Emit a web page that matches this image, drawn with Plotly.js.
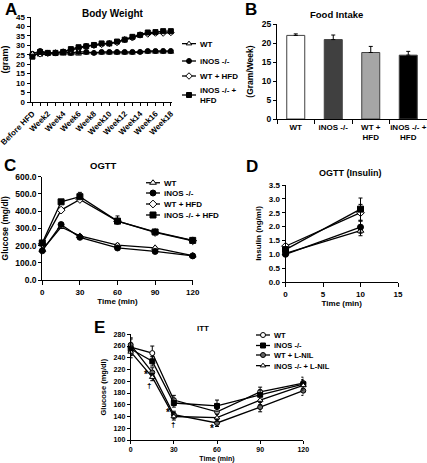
<!DOCTYPE html>
<html><head><meta charset="utf-8">
<script src="https://cdn.plot.ly/plotly-3.0.1.min.js"></script>
<style>html,body{margin:0;padding:0;background:#fff}#chart{width:427px;height:463px}</style>
</head><body><div id="chart"></div>
<script>
// ---------- Panel A: Body Weight ----------
const weeks = ["Before HFD","Week1","Week2","Week3","Week4","Week5","Week6","Week7","Week8","Week9","Week10","Week11","Week12","Week13","Week14","Week15","Week16","Week17","Week18"];
const weekTickText = ["Before HFD","","Week2","","Week4","","Week6","","Week8","","Week10","","Week12","","Week14","","Week16","","Week18"];
const bwWT      = [25.5,25.0,25.5,25.5,25.5,25.5,25.5,26.0,26.0,26.0,26.0,26.0,26.0,26.0,26.5,26.5,26.5,26.5,26.5];
const bwINOS    = [25.5,27.0,26.0,26.0,26.5,26.0,26.5,26.5,26.0,26.5,26.5,26.5,26.5,26.5,26.5,27.0,27.0,27.0,27.0];
const bwWTHFD   = [25.0,25.5,25.8,26.0,26.5,27.5,28.5,29.5,30.0,30.5,31.0,31.5,33.0,34.0,35.5,36.0,36.5,36.5,36.8];
const bwINOSHFD = [24.0,26.5,26.0,26.0,26.5,28.0,29.0,29.5,30.2,31.0,31.0,32.0,33.0,34.5,35.5,36.8,37.0,37.5,37.5];
const bwErr     = [0.6,0.6,0.5,0.5,0.6,0.6,0.6,0.6,0.6,0.7,0.7,0.7,0.7,0.8,0.8,0.8,0.8,0.9,0.9];
const legendA   = ["WT","iNOS -/-","WT + HFD","iNOS -/- +<br>HFD"];

// ---------- Panel B: Food Intake ----------
const fiGroups = ["WT","iNOS -/-","WT +<br>HFD","iNOS -/- +<br>HFD"];
const fiValues = [22.0,20.9,17.5,16.8];
const fiErr    = [0.4,1.2,1.6,1.0];
const fiColors = ["#ffffff","#404040","#a6a6a6","#000000"];

// ---------- Panel C: OGTT ----------
const ogttTime    = [0,15,30,60,90,120];
const ogttWT      = [175,308,256,203,187,142];
const ogttINOS    = [170,322,248,186,166,140];
const ogttWTHFD   = [210,406,468,342,276,228];
const ogttINOSHFD = [215,454,484,342,279,230];
const ogttErrWT      = [8,10,8,8,6,5];
const ogttErrINOS    = [8,10,10,8,6,5];
const ogttErrWTHFD   = [10,12,18,15,8,8];
const ogttErrINOSHFD = [10,10,25,30,8,8];
const legendC = ["WT","iNOS -/-","WT + HFD","iNOS -/- + HFD"];

// ---------- Panel D: OGTT (Insulin) ----------
const insTime    = [0,10];
const insWT      = [1.03,1.85];
const insINOS    = [1.00,1.98];
const insWTHFD   = [1.29,2.50];
const insINOSHFD = [1.17,2.63];
const insErrWT      = [0.08,0.18];
const insErrINOS    = [0.08,0.22];
const insErrWTHFD   = [0.08,0.30];
const insErrINOSHFD = [0.08,0.40];

// ---------- Panel E: ITT ----------
const ittTime     = [0,15,30,60,90,120];
const ittWT       = [258,248,168,148,182,197];
const ittINOS     = [255,234,163,158,177,195];
const ittWTLNIL   = [262,215,143,129,156,184];
const ittINOSLNIL = [250,207,140,138,168,193];
const ittErrWT       = [14,12,8,10,8,10];
const ittErrINOS     = [10,8,7,10,8,8];
const ittErrWTLNIL   = [12,8,6,6,8,8];
const ittErrINOSLNIL = [10,6,6,6,8,8];
const legendE = ["WT","iNOS -/-","WT + L-NIL","iNOS -/- + L-NIL"];
const ittMarks = [
  {x:10.5, y:212, t:"*"},{x:13, y:193, t:"†"},
  {x:26.2, y:146, t:"*"},{x:29.6, y:126, t:"†"},
  {x:56.6, y:119, t:"*"}
];

// ---------- style helpers ----------
const FF = "Liberation Sans, Arial, Helvetica, sans-serif";
const W = 427, H = 463;
const px = x => x / W;
const py = y => 1 - y / H;
function font(size){ return {family:FF, size:size, color:"#000", weight:"bold"}; }
function axis(extra){
  return Object.assign({
    showgrid:false, zeroline:false, showline:true, linecolor:"#000", linewidth:1,
    ticks:"outside", ticklen:3, tickwidth:1, tickcolor:"#000", fixedrange:true,
    tickfont:font(8)
  }, extra);
}
function line(xa, ya, x, y, err, sym, fill, size, name, legend, errSym){
  const e = {type:"data", array:err, color:"#000", thickness:1, width:2, visible:true};
  if(!errSym){ e.symmetric = false; e.arrayminus = err.map(()=>0); }
  return {
    type:"scatter", mode:"lines+markers", x:x, y:y, xaxis:xa, yaxis:ya,
    name:name, legend:legend, showlegend: !!legend, cliponaxis:false,
    line:{color:"#000", width:1.3},
    marker:{symbol:sym, size:size, color:fill, line:{color:"#000", width:1}},
    error_y:e
  };
}

const traces = [
  // A
  line("x","y",weeks,bwWT,bwErr,"triangle-up","#fff",5,legendA[0],"legend",false),
  line("x","y",weeks,bwINOS,bwErr,"circle","#000",5,legendA[1],"legend",false),
  line("x","y",weeks,bwWTHFD,bwErr,"diamond","#fff",5,legendA[2],"legend",false),
  line("x","y",weeks,bwINOSHFD,bwErr,"square","#000",5,legendA[3],"legend",false),
  // B
  {type:"bar", x:fiGroups, y:fiValues, xaxis:"x2", yaxis:"y2", width:0.48, showlegend:false,
   marker:{color:fiColors, line:{color:"#404040", width:1}},
   error_y:{type:"data", array:fiErr, symmetric:false, arrayminus:fiErr.map(()=>0), color:"#000", thickness:1, width:2}},
  // C
  line("x3","y3",ogttTime,ogttWT,ogttErrWT,"triangle-up","#fff",6,legendC[0],"legend2",false),
  line("x3","y3",ogttTime,ogttINOS,ogttErrINOS,"circle","#000",6,legendC[1],"legend2",false),
  line("x3","y3",ogttTime,ogttWTHFD,ogttErrWTHFD,"diamond","#fff",6,legendC[2],"legend2",false),
  line("x3","y3",ogttTime,ogttINOSHFD,ogttErrINOSHFD,"square","#000",6,legendC[3],"legend2",false),
  // D
  line("x4","y4",insTime,insWT,insErrWT,"triangle-up","#fff",6,"WT",null,true),
  line("x4","y4",insTime,insINOS,insErrINOS,"circle","#000",6,"iNOS -/-",null,true),
  line("x4","y4",insTime,insWTHFD,insErrWTHFD,"diamond","#fff",6,"WT + HFD",null,true),
  line("x4","y4",insTime,insINOSHFD,insErrINOSHFD,"square","#000",6,"iNOS -/- + HFD",null,true),
  // E
  line("x5","y5",ittTime,ittWT,ittErrWT,"circle","#fff",5,legendE[0],"legend3",true),
  line("x5","y5",ittTime,ittINOS,ittErrINOS,"square","#000",5,legendE[1],"legend3",true),
  line("x5","y5",ittTime,ittWTLNIL,ittErrWTLNIL,"circle","#666",5,legendE[2],"legend3",true),
  line("x5","y5",ittTime,ittINOSLNIL,ittErrINOSLNIL,"triangle-up","#fff",5,legendE[3],"legend3",true)
];

const ann = [];
function txt(x,y,t,size,opts){ ann.push(Object.assign({xref:"paper",yref:"paper",x:px(x),y:py(y),text:t,showarrow:false,font:font(size),xanchor:"center",yanchor:"middle"},opts||{})); }
// panel letters
txt(3,9,"A",17,{xanchor:"left"});
txt(243,9,"B",17,{xanchor:"left"});
txt(2,165,"C",17,{xanchor:"left"});
txt(244,166,"D",17,{xanchor:"left"});
txt(92,327,"E",17,{xanchor:"left"});
// panel titles
txt(113,13,"Body Weight",10);
txt(336,15,"Food Intake",9.5);
txt(103,165,"OGTT",9.5);
txt(350,173,"OGTT (Insulin)",9);
txt(203,328,"ITT",8);
// significance marks
ittMarks.forEach(m => ann.push({xref:"x5",yref:"y5",x:m.x,y:m.y,text:m.t,showarrow:false,font:font(m.t==="*"?10:8)}));

const layout = {
  width:W, height:H, margin:{l:0,r:0,t:0,b:0}, paper_bgcolor:"#fff", plot_bgcolor:"rgba(0,0,0,0)",
  font:font(8), showlegend:true,
  // A
  xaxis: axis({domain:[px(30.5),px(172)], anchor:"y", type:"category", range:[-0.25,18.15],
               tickmode:"array", tickvals:weeks, ticktext:weekTickText, tickangle:-45, tickfont:font(8)}),
  yaxis: axis({domain:[py(102),py(17)], anchor:"x", range:[0,45], dtick:5, tickfont:font(8),
               title:{text:"(gram)", font:font(9), standoff:6}}),
  // B
  xaxis2: axis({domain:[px(277),px(427)], anchor:"y2", type:"category", range:[-0.5,3.5], tickson:"boundaries", ticklen:4, tickangle:0, tickfont:font(8)}),
  yaxis2: axis({domain:[py(119),py(24)], anchor:"x2", range:[0,25], dtick:5, tickfont:font(8.5),
               title:{text:"(Gram/Week)", font:font(8.5), standoff:6}}),
  // C
  xaxis3: axis({domain:[px(42.3),px(192.7)], anchor:"y3", range:[0,120], tickvals:[0,30,60,90,120], ticklen:4, tickfont:font(8),
               title:{text:"Time (min)", font:font(8), standoff:2}}),
  yaxis3: axis({domain:[py(280),py(176.7)], anchor:"x3", range:[0,600], dtick:100, tickformat:".1f", tickfont:font(8.5),
               title:{text:"Glucose (mg/dl)", font:font(8.5), standoff:5}}),
  // D
  xaxis4: axis({domain:[px(285.5),px(398)], anchor:"y4", range:[0,15], dtick:5, ticklen:4, tickfont:font(8),
               title:{text:"Time (min)", font:font(8), standoff:2}}),
  yaxis4: axis({domain:[py(282),py(185)], anchor:"x4", range:[0,3.5], dtick:0.5, tickformat:".1f", tickfont:font(8),
               title:{text:"Insulin (ng/ml)", font:font(8), standoff:5}}),
  // E
  xaxis5: axis({domain:[px(130.7),px(303.3)], anchor:"y5", range:[0,120], dtick:30, ticklen:3, tickfont:font(7),
               title:{text:"Time (min)", font:font(7), standoff:3}}),
  yaxis5: axis({domain:[py(440),py(334.3)], anchor:"x5", range:[100,280], dtick:20, tickfont:font(7),
               title:{text:"Glucose (mg/dl)", font:font(7.5), standoff:5}}),
  legend:  {x:px(160), y:py(34), xanchor:"left", yanchor:"top", bgcolor:"rgba(0,0,0,0)", font:font(8), itemwidth:30, tracegroupgap:0},
  legend2: {x:px(124), y:py(174), xanchor:"left", yanchor:"top", bgcolor:"rgba(0,0,0,0)", font:font(8), itemwidth:30, tracegroupgap:0},
  legend3: {x:px(234), y:py(328), xanchor:"left", yanchor:"top", bgcolor:"rgba(0,0,0,0)", font:font(7.5), itemwidth:30, tracegroupgap:0},
  annotations: ann
};

// target vertical centres (page px) of the legend rows, to match the compact legends of the figure
const legendRows = [[43,61,76,95],[182,193,204,215],[335,345.5,355,365]];

Plotly.newPlot("chart", traces, layout, {staticPlot:true, displayModeBar:false}).then(gd => {
  const legs = Array.from(gd.querySelectorAll("g.legend, g.legend2, g.legend3"))
    .map(g => ({g, top:g.getBoundingClientRect().top}))
    .sort((a,b) => a.top - b.top);
  legs.forEach((L, li) => {
    const rows = legendRows[li]; if(!rows) return;
    L.g.querySelectorAll("g.traces").forEach((tr, i) => {
      // shorter key line, marker centred on it (as in the figure's compact legend keys)
      tr.querySelectorAll(".legendlines path").forEach(p => p.setAttribute("d", "M22,0h14"));
      tr.querySelectorAll(".legendpoints path").forEach(p => p.setAttribute("transform", "translate(29,0)"));
      if(rows[i] === undefined) return;
      const pts = tr.querySelector(".legendpoints") || tr;
      const r = pts.getBoundingClientRect();
      const delta = rows[i] - (r.top + r.height/2);
      const m = /translate\(\s*([-\d.e]+)[ ,]+([-\d.e]+)\s*\)/.exec(tr.getAttribute("transform") || "");
      if(m) tr.setAttribute("transform", "translate(" + m[1] + "," + (parseFloat(m[2]) + delta) + ")");
    });
    const clip = L.g.querySelector(".scrollbox");
    if(clip) clip.removeAttribute("clip-path");
  });
});
</script>
</body></html>
